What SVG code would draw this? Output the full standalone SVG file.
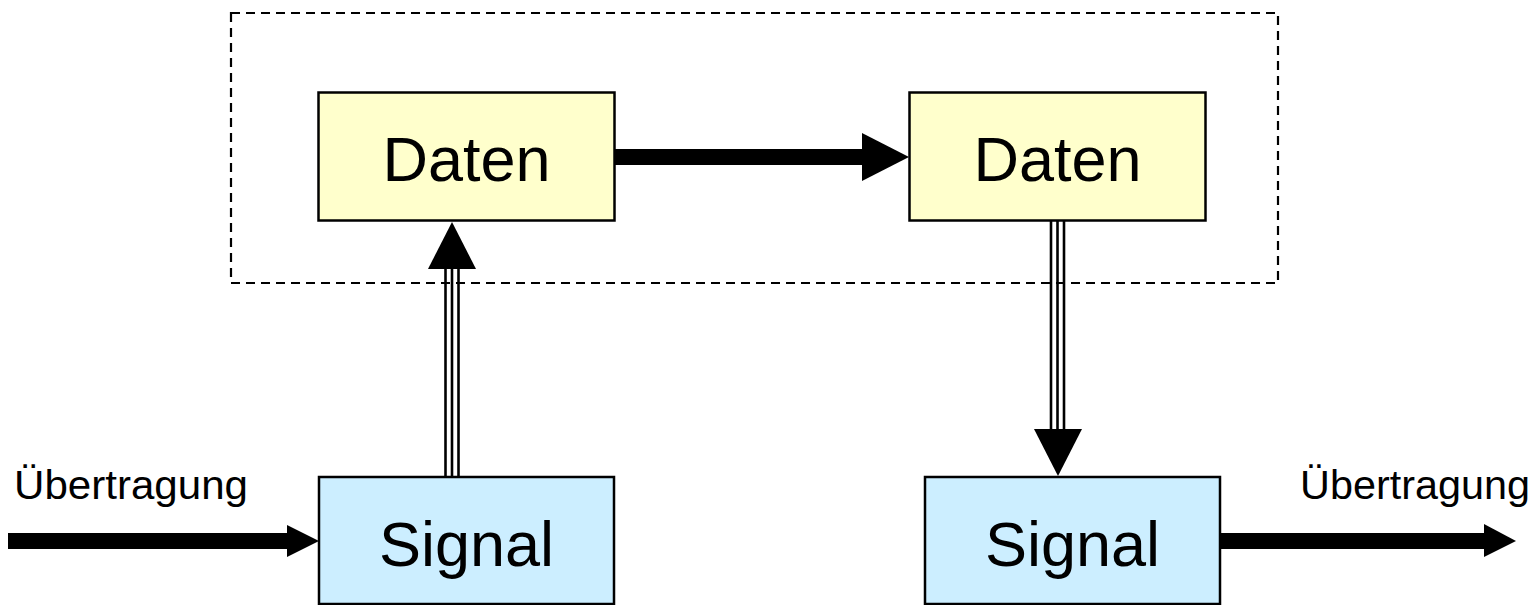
<svg xmlns="http://www.w3.org/2000/svg" width="1539" height="605" viewBox="0 0 1539 605">
  <style>
    .box { stroke: #000; stroke-width: 2.5; }
    .data { fill: #ffffcc; }
    .sig { fill: #cceeff; }
    .big { font-family: "Liberation Sans", Arial, sans-serif; font-size: 63px; fill: #000; text-anchor: middle; }
    .lbl { font-family: "Liberation Sans", Arial, sans-serif; font-size: 41px; fill: #000; }
    .rail { stroke: #000; stroke-width: 2.6; fill: none; }
    .head { fill: #000; stroke: none; }
  </style>

  <!-- dashed boundary around the data layer -->
  <rect x="231" y="13" width="1047" height="270" fill="none" stroke="#000" stroke-width="2.2" stroke-dasharray="9,6"/>

  <g id="connectors">
    <!-- Daten -> Daten -->
    <rect x="614" y="149" width="250" height="16" class="head"/>
    <polygon points="862,133 909,157 862,181" class="head"/>
    <!-- incoming Übertragung -> Signal -->
    <rect x="8" y="533" width="281" height="16" class="head"/>
    <polygon points="287,525 319,541 287,557" class="head"/>
    <!-- Signal -> outgoing Übertragung -->
    <rect x="1220" y="533" width="266" height="16" class="head"/>
    <polygon points="1484,524 1516,541 1484,557" class="head"/>
    <!-- Signal -> Daten (triple line, upward) -->
    <line x1="445.5" y1="266" x2="445.5" y2="477" class="rail"/>
    <line x1="452" y1="266" x2="452" y2="477" class="rail"/>
    <line x1="458.5" y1="266" x2="458.5" y2="477" class="rail"/>
    <polygon points="452,222 476,269 428,269" class="head"/>
    <!-- Daten -> Signal (triple line, downward) -->
    <line x1="1051" y1="221" x2="1051" y2="432" class="rail"/>
    <line x1="1057.5" y1="221" x2="1057.5" y2="432" class="rail"/>
    <line x1="1064" y1="221" x2="1064" y2="432" class="rail"/>
    <polygon points="1034,429 1082,429 1058,476" class="head"/>
  </g>

  <g id="daten-left">
    <rect x="318.5" y="92.5" width="296" height="128" class="box data"/>
    <text x="466.5" y="181" class="big">Daten</text>
  </g>

  <g id="daten-right">
    <rect x="909.5" y="92.5" width="296" height="128" class="box data"/>
    <text x="1057.5" y="181" class="big">Daten</text>
  </g>

  <g id="signal-left">
    <rect x="319" y="477" width="295" height="127" class="box sig"/>
    <text x="466.5" y="566" class="big">Signal</text>
  </g>

  <g id="signal-right">
    <rect x="925" y="477" width="295" height="127" class="box sig"/>
    <text x="1072.5" y="566" class="big">Signal</text>
  </g>

  <g id="label-in">
    <text x="14" y="499" class="lbl" textLength="234" lengthAdjust="spacingAndGlyphs">Übertragung</text>
  </g>

  <g id="label-out">
    <text x="1300" y="499" class="lbl" textLength="230" lengthAdjust="spacingAndGlyphs">Übertragung</text>
  </g>
</svg>
